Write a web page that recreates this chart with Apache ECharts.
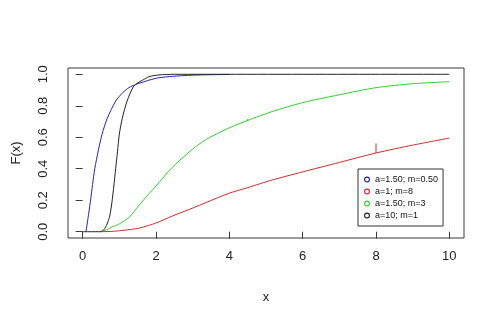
<!DOCTYPE html>
<html>
<head>
<meta charset="utf-8">
<script src="https://cdn.jsdelivr.net/npm/echarts@6/dist/echarts.min.js"></script>
<style>html,body{margin:0;padding:0;background:#fff}#c{width:500px;height:324px}</style>
</head>
<body>
<div id="c"></div>
<script>
// Data
var seriesNames = ['a=1.50; m=0.50', 'a=1; m=8', 'a=1.50; m=3', 'a=10; m=1'];
var xTicks = [0, 2, 4, 6, 8, 10];
var yTicks = [0, 0.2, 0.4, 0.6, 0.8, 1.0];

var blueX = [0.09, 0.145, 0.21, 0.27, 0.33, 0.43, 0.53, 0.67, 0.9, 1.1, 1.26, 1.5, 1.67, 1.81, 2.08, 2.45, 2.77, 3.2, 4.0];
var blueY = [0, 0.085, 0.19, 0.30, 0.40, 0.52, 0.62, 0.72, 0.83, 0.885, 0.915, 0.94, 0.952, 0.963, 0.978, 0.987, 0.992, 0.996, 0.999];

var redX = [0.48, 0.8, 1.0, 1.3, 1.53, 1.8, 2.0, 2.45, 3.0, 3.36, 4.0, 4.5, 5.19, 6.0, 7.0, 8.0, 9.0, 10];
var redY = [0, 0.002, 0.006, 0.014, 0.022, 0.04, 0.055, 0.10, 0.15, 0.185, 0.245, 0.28, 0.33, 0.38, 0.44, 0.50, 0.55, 0.595];

var greenX = [0.48, 0.65, 0.8, 1.0, 1.26, 1.53, 1.8, 2.0, 2.45, 3.0, 3.36, 4.0, 4.5, 5.19, 6.0, 7.0, 8.0, 9.0, 10];
var greenY = [0, 0.012, 0.03, 0.05, 0.09, 0.165, 0.24, 0.29, 0.41, 0.525, 0.585, 0.66, 0.707, 0.765, 0.82, 0.87, 0.915, 0.94, 0.953];

var blackX = [0, 0.48, 0.55, 0.6, 0.65, 0.7, 0.74, 0.8, 0.85, 0.9, 0.95, 1.0, 1.08, 1.21, 1.38, 1.5, 1.63, 1.81, 2.08, 2.5, 10];
var blackY = [0, 0, 0.006, 0.02, 0.04, 0.07, 0.10, 0.19, 0.29, 0.40, 0.51, 0.62, 0.72, 0.83, 0.92, 0.945, 0.962, 0.985, 0.996, 1, 1];

// small vertical marks seen on the curves
var redMarkX = [8, 8];
var redMarkY = [0.50, 0.56];
var greenMarkX = [4.5, 4.5];
var greenMarkY = [0.700, 0.716];

var colors = ['#2323b8', '#d12a2a', '#33cc33', '#222222'];
var ringIcon = 'path://M0,-5A5,5,0,1,1,0,5A5,5,0,1,1,0,-5ZM0,-3.1A3.1,3.1,0,1,0,0,3.1A3.1,3.1,0,1,0,0,-3.1Z';

function pairs(xs, ys) { return xs.map(function (x, i) { return [x, ys[i]]; }); }

var chart = echarts.init(document.getElementById('c'), null, { renderer: 'canvas' });
var lineSeries = [[blueX, blueY], [redX, redY], [greenX, greenY], [blackX, blackY]].map(function (d, i) {
  return {
    name: seriesNames[i], type: 'line', data: pairs(d[0], d[1]),
    showSymbol: false, smooth: 0.25,
    lineStyle: { color: colors[i], width: 1 }, itemStyle: { color: colors[i] },
    silent: true, z: 2 + i
  };
});
lineSeries.push({ type: 'line', data: pairs(redMarkX, redMarkY), showSymbol: false,
  lineStyle: { color: colors[1], width: 1 }, silent: true });
lineSeries.push({ type: 'line', data: pairs(greenMarkX, greenMarkY), showSymbol: false,
  lineStyle: { color: colors[2], width: 1 }, silent: true });

chart.setOption({
  animation: false,
  backgroundColor: '#fff',
  textStyle: { fontFamily: 'Liberation Sans, Arial, sans-serif' },
  grid: { left: 68, right: 36, top: 68, bottom: 86, show: true, borderColor: '#3a3a3a', borderWidth: 1, backgroundColor: 'transparent' },
  xAxis: {
    type: 'value', min: -0.4, max: 10.4,
    name: 'x', nameLocation: 'middle', nameGap: 53,
    nameTextStyle: { fontSize: 13, color: '#222', fontFamily: 'Liberation Sans, Arial, sans-serif' },
    axisLine: { show: false },
    splitLine: { show: false },
    axisTick: { show: true, inside: false, length: 7, customValues: xTicks, lineStyle: { color: '#3a3a3a', width: 1 } },
    axisLabel: { customValues: xTicks, margin: 12, fontSize: 13, color: '#222', fontFamily: 'Liberation Sans, Arial, sans-serif' }
  },
  yAxis: {
    type: 'value', min: -0.04, max: 1.04,
    name: 'F(x)', nameLocation: 'middle', nameGap: 45, nameRotate: 90,
    nameTextStyle: { fontSize: 13, color: '#222', fontFamily: 'Liberation Sans, Arial, sans-serif' },
    axisLine: { show: false },
    splitLine: { show: false },
    axisTick: { show: true, inside: false, length: 7, customValues: yTicks, lineStyle: { color: '#3a3a3a', width: 1 } },
    axisLabel: { customValues: yTicks, rotate: 90, margin: 18, fontSize: 13, color: '#222',
      fontFamily: 'Liberation Sans, Arial, sans-serif',
      formatter: function (v) { return v.toFixed(1); } }
  },
  legend: {
    orient: 'vertical', left: 358, top: 169,
    padding: [5, 5, 5, 6], itemGap: 1, itemWidth: 6, itemHeight: 6,
    borderColor: '#333', borderWidth: 1, backgroundColor: '#fff',
    textStyle: { fontSize: 9, lineHeight: 11, color: '#111', fontFamily: 'Liberation Sans, Arial, sans-serif' },
    data: seriesNames.map(function (n, i) {
      return { name: n, icon: ringIcon, itemStyle: { color: colors[i], borderWidth: 0 } };
    }),
    selectedMode: false
  },
  series: lineSeries
});
</script>
</body>
</html>
